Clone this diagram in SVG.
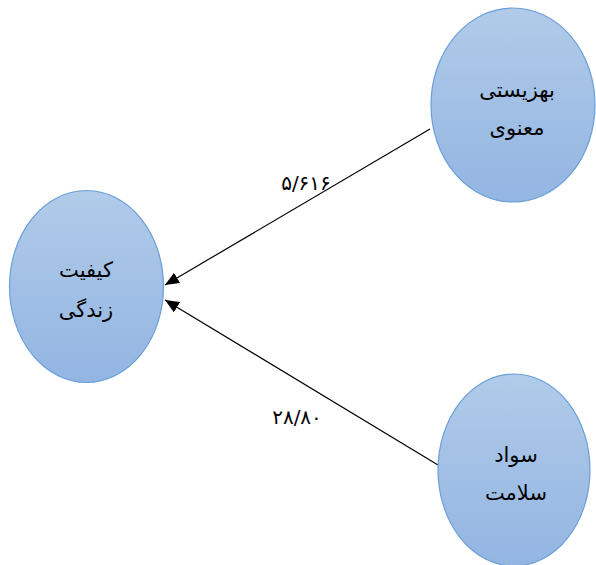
<svg xmlns="http://www.w3.org/2000/svg" width="596" height="565" viewBox="0 0 596 565">
<style>
.node{stroke:#6a9fd8;stroke-width:1.2;fill:url(#g)}
.t{font-family:"DejaVu Sans",sans-serif;font-size:21px;fill:#000;text-anchor:middle}
.lbl{font-family:"DejaVu Sans",sans-serif;font-size:20px;fill:#000;text-anchor:middle}
.edge{stroke:#000;stroke-width:1.2;fill:none;marker-end:url(#arr)}
</style>
<defs>
<linearGradient id="g" x1="0" y1="0" x2="0" y2="1">
<stop offset="0" stop-color="#b1cbe9"/>
<stop offset="1" stop-color="#93b5e2"/>
</linearGradient>
<marker id="arr" markerWidth="14" markerHeight="12" refX="14" refY="6" orient="auto" markerUnits="userSpaceOnUse">
<path d="M0,0 L14,6 L0,12 z" fill="#000"/>
</marker>
</defs>
<rect width="596" height="565" fill="#fff"/>
<g id="edges">
<line class="edge" x1="430" y1="129" x2="165" y2="285"/>
<line class="edge" x1="438" y1="465" x2="165" y2="300"/>
<text class="lbl" x="306" y="190" direction="ltr">۵/۶۱۶</text>
<text class="lbl" x="297" y="424" direction="ltr">۲۸/۸۰</text>
</g>
<g id="node-quality">
<ellipse class="node" cx="86.5" cy="286.5" rx="77" ry="96"/>
<text class="t" x="86" y="277">کیفیت</text>
<text class="t" x="86" y="317">زندگی</text>
</g>
<g id="node-spiritual">
<ellipse class="node" cx="513" cy="105" rx="82" ry="97"/>
<text class="t" x="517" y="97">بهزیستی</text>
<text class="t" x="517" y="135">معنوی</text>
</g>
<g id="node-literacy">
<ellipse class="node" cx="514" cy="470" rx="76" ry="96"/>
<text class="t" x="516" y="462">سواد</text>
<text class="t" x="516" y="500">سلامت</text>
</g>
</svg>
